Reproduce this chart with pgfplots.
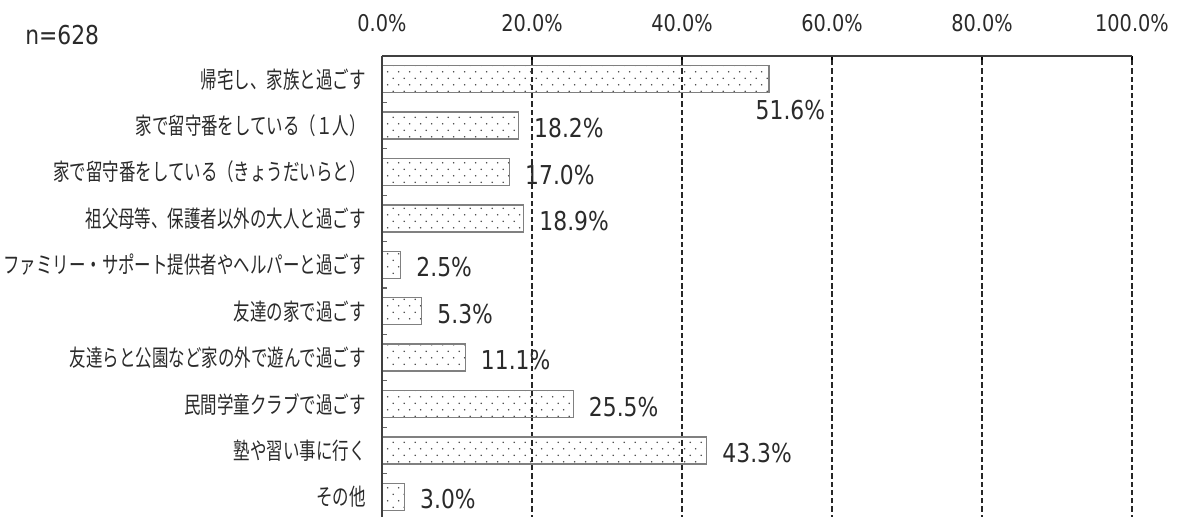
\documentclass[border=0pt]{standalone}
\usepackage{fontspec}
\usepackage{pgfplots}
\pgfplotsset{compat=1.18}
\usetikzlibrary{patterns}
\setmainfont{DejaVu Sans}[FakeStretch=0.84]
\newfontfamily\jp{Noto Sans CJK JP}[FakeStretch=0.71]
\definecolor{txt}{HTML}{2a2a2a}
\pgfdeclarepatternformonly{sdots}{\pgfqpoint{-1pt}{-1pt}}{\pgfqpoint{9.25pt}{10.75pt}}{\pgfqpoint{8.25pt}{9.75pt}}{%
  \pgfpathcircle{\pgfqpoint{2pt}{2.4pt}}{0.65pt}%
  \pgfpathcircle{\pgfqpoint{6.1pt}{7.3pt}}{0.65pt}%
  \pgfusepath{fill}}
\begin{document}
\begin{tikzpicture}[x=1pt,y=1pt]
\path[use as bounding box] (0,0) rectangle (886.5,-387.75);
\node[anchor=base west, inner sep=0pt, text=txt, font=\fontsize{19.5}{22}\selectfont] at (18.75,-33.75) {n=628};
\begin{axis}[
  at={(286.5pt,-42pt)}, anchor=north west,
  width=562.5pt, height=348pt, scale only axis,
  xmin=0, xmax=100, ymin=0.5, ymax=10.5,
  clip=false,
  /pgf/number format/assume math mode=true,
  axis line style={draw=none},
  xtick={0,20,40,60,80,100},
  xticklabels={0.0\%,20.0\%,40.0\%,60.0\%,80.0\%,100.0\%},
  xtick pos=right, xticklabel pos=right,
  xticklabel style={font=\fontsize{17.25}{20}\selectfont, text=txt, inner sep=0pt, anchor=base, yshift=18pt},
  major tick length=3pt,
  tick style={black, line width=0.9pt},
  xmajorgrids,
  major grid style={black!85, line width=0.9pt, dash pattern=on 4pt off 2.2pt},
  ytick={1,...,10},
  yticklabels={その他,塾や習い事に行く,民間学童クラブで過ごす,友達らと公園など家の外で遊んで過ごす,友達の家で過ごす,ファミリー・サポート提供者やヘルパーと過ごす,祖父母等、保護者以外の大人と過ごす,家で留守番をしている（きょうだいらと）,家で留守番をしている（１人）,帰宅し、家族と過ごす},
  ytick pos=left,
  ytick style={draw=none},
  yticklabel style={font=\jp\fontsize{17.4}{20}\selectfont, text=txt, anchor=east, inner sep=0pt, xshift=-12pt},
  minor ytick={1.5,2.5,...,9.5},
  minor tick length=3.75pt,
  minor y tick style={draw=black!60, line width=0.9pt},
]
\addplot[xbar, bar width=20.25pt, bar shift=0pt, draw=black!50, line width=1.1pt,
  pattern=sdots, pattern color=black!75,
  nodes near coords={\pgfmathprintnumber[fixed,fixed zerofill,precision=1]{\pgfplotspointmeta}\%},
  nodes near coords style={anchor=west, inner sep=0pt, xshift=11.25pt, yshift=-2pt, font=\fontsize{19.5}{22}\selectfont, text=txt}
] coordinates {(18.2,9) (17.0,8) (18.9,7) (2.5,6) (5.3,5) (11.1,4) (25.5,3) (43.3,2) (3.0,1)};
\addplot[xbar, bar width=20.25pt, bar shift=0pt, draw=black!50, line width=1.1pt,
  pattern=sdots, pattern color=black!75,
  nodes near coords={\pgfmathprintnumber[fixed,fixed zerofill,precision=1]{\pgfplotspointmeta}\%},
  nodes near coords style={anchor=north west, inner sep=0pt, xshift=-10.5pt, yshift=-15pt, font=\fontsize{19.5}{22}\selectfont, text=txt}
] coordinates {(51.6,10)};
\draw[black!75, line width=1pt] (axis cs:0,10.5) -- (axis cs:100,10.5);
\draw[black!75, line width=1pt] (axis cs:0,10.5) -- (axis cs:0,0.5);
\end{axis}
\end{tikzpicture}
\end{document}
